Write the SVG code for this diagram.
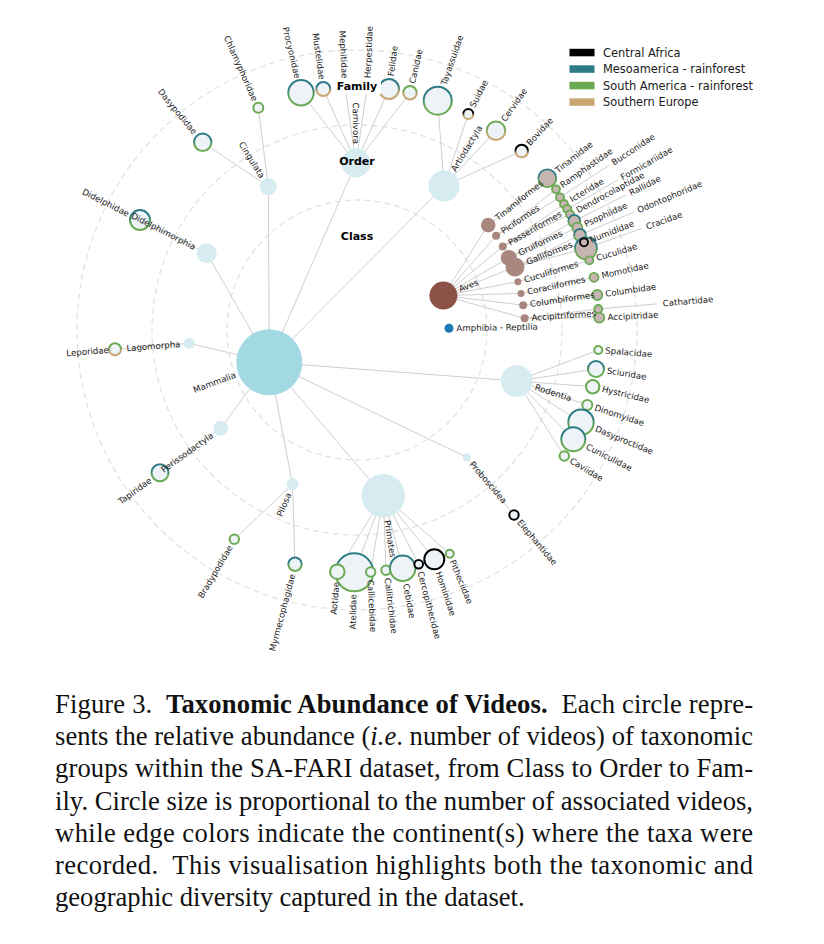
<svg xmlns="http://www.w3.org/2000/svg" width="824" height="944" viewBox="0 0 824 944">
<defs>
<style>
.ring{fill:none;stroke:#e2e2e2;stroke-width:1.3;stroke-dasharray:6 4}
.e{stroke:#cfcfcf;stroke-width:1;fill:none}
.lb{font-family:"DejaVu Sans",sans-serif;font-size:8.6px;fill:#1a1a1a;dominant-baseline:central}
.le{text-anchor:end}
.hd{font-family:"DejaVu Sans",sans-serif;font-size:11px;font-weight:bold;fill:#000;text-anchor:middle;dominant-baseline:central}
.mo{fill:#d7ecf1}
.mf{fill:#eef3f7;stroke-width:2}
.bo{fill:#a9877f}
.bf{fill:#c6b5b1;stroke-width:1.8}
.G{stroke:#6aaa52}.K{stroke:#000}
.tg{stroke:url(#tg)}.tt{stroke:url(#tt)}.gt{stroke:url(#gt)}.kt{stroke:url(#kt)}
.lg{font-family:"DejaVu Sans",sans-serif;font-size:11.4px;fill:#1a1a1a;dominant-baseline:central}
.cap{font-family:"Liberation Serif","Times New Roman",serif;font-size:26.6px;fill:#111}
</style>
<linearGradient id="tg" x1="0" y1="0" x2="0" y2="1"><stop offset="0.3" stop-color="#2d7b85"/><stop offset="0.7" stop-color="#6aaa52"/></linearGradient>
<linearGradient id="tt" x1="0" y1="0" x2="0" y2="1"><stop offset="0.3" stop-color="#2d7b85"/><stop offset="0.7" stop-color="#c8a772"/></linearGradient>
<linearGradient id="gt" x1="0" y1="0" x2="0" y2="1"><stop offset="0.3" stop-color="#6aaa52"/><stop offset="0.7" stop-color="#c8a772"/></linearGradient>
<linearGradient id="kt" x1="0" y1="0" x2="0" y2="1"><stop offset="0.35" stop-color="#000"/><stop offset="0.7" stop-color="#c8a772"/></linearGradient>
</defs>
<rect width="824" height="944" fill="#fff"/>

<g id="rings">
<circle class="ring" cx="357" cy="330" r="130"/>
<circle class="ring" cx="357" cy="330" r="205"/>
<circle class="ring" cx="357" cy="330" r="280"/>
</g>

<g id="connectors">
<line class="e" x1="269.3" y1="362.3" x2="356" y2="163"/>
<line class="e" x1="269.3" y1="362.3" x2="444" y2="186"/>
<line class="e" x1="269.3" y1="362.3" x2="268.3" y2="186.7"/>
<line class="e" x1="269.3" y1="362.3" x2="206.7" y2="253.3"/>
<line class="e" x1="269.3" y1="362.3" x2="189.3" y2="343.3"/>
<line class="e" x1="269.3" y1="362.3" x2="220.7" y2="428.3"/>
<line class="e" x1="269.3" y1="362.3" x2="292.5" y2="484.3"/>
<line class="e" x1="269.3" y1="362.3" x2="383.3" y2="495.7"/>
<line class="e" x1="269.3" y1="362.3" x2="466.7" y2="457.3"/>
<line class="e" x1="269.3" y1="362.3" x2="516.7" y2="381"/>
<line class="e" x1="443.4" y1="295.6" x2="488.2" y2="225.1"/>
<line class="e" x1="443.4" y1="295.6" x2="496.1" y2="235.8"/>
<line class="e" x1="443.4" y1="295.6" x2="502.8" y2="246.5"/>
<line class="e" x1="443.4" y1="295.6" x2="508.8" y2="257.9"/>
<line class="e" x1="443.4" y1="295.6" x2="515" y2="267"/>
<line class="e" x1="443.4" y1="295.6" x2="517.9" y2="281.7"/>
<line class="e" x1="443.4" y1="295.6" x2="521" y2="293.4"/>
<line class="e" x1="443.4" y1="295.6" x2="523.2" y2="305.2"/>
<line class="e" x1="443.4" y1="295.6" x2="524.6" y2="318.3"/>
<line class="e" x1="356" y1="163" x2="301" y2="92.7"/>
<line class="e" x1="356" y1="163" x2="323.3" y2="89"/>
<line class="e" x1="356" y1="163" x2="345.1" y2="87.3"/>
<line class="e" x1="356" y1="163" x2="367.2" y2="87.2"/>
<line class="e" x1="356" y1="163" x2="389" y2="89"/>
<line class="e" x1="356" y1="163" x2="410" y2="92.7"/>
<line class="e" x1="444" y1="186" x2="437.7" y2="100.7"/>
<line class="e" x1="444" y1="186" x2="468.3" y2="114"/>
<line class="e" x1="444" y1="186" x2="496" y2="130.7"/>
<line class="e" x1="444" y1="186" x2="521.7" y2="151"/>
<line class="e" x1="268.3" y1="186.7" x2="258.3" y2="107.7"/>
<line class="e" x1="268.3" y1="186.7" x2="202.7" y2="142.3"/>
<line class="e" x1="206.7" y1="253.3" x2="140" y2="220"/>
<line class="e" x1="189.3" y1="343.3" x2="115" y2="349.3"/>
<line class="e" x1="220.7" y1="428.3" x2="160" y2="472.7"/>
<line class="e" x1="292.5" y1="484.3" x2="234.3" y2="539.3"/>
<line class="e" x1="292.5" y1="484.3" x2="295" y2="564.3"/>
<line class="e" x1="383.3" y1="495.7" x2="337.3" y2="571.7"/>
<line class="e" x1="383.3" y1="495.7" x2="354.3" y2="572.3"/>
<line class="e" x1="383.3" y1="495.7" x2="370.7" y2="572"/>
<line class="e" x1="383.3" y1="495.7" x2="386" y2="570.3"/>
<line class="e" x1="383.3" y1="495.7" x2="402.7" y2="568.3"/>
<line class="e" x1="383.3" y1="495.7" x2="418.7" y2="564.3"/>
<line class="e" x1="383.3" y1="495.7" x2="434.3" y2="559.3"/>
<line class="e" x1="383.3" y1="495.7" x2="449.7" y2="553.7"/>
<line class="e" x1="466.7" y1="457.3" x2="514" y2="515"/>
<line class="e" x1="516.7" y1="381" x2="598.3" y2="350"/>
<line class="e" x1="516.7" y1="381" x2="596" y2="369"/>
<line class="e" x1="516.7" y1="381" x2="592.7" y2="386.7"/>
<line class="e" x1="516.7" y1="381" x2="587.3" y2="405"/>
<line class="e" x1="516.7" y1="381" x2="581" y2="422.3"/>
<line class="e" x1="516.7" y1="381" x2="573.3" y2="439.3"/>
<line class="e" x1="516.7" y1="381" x2="564.3" y2="456"/>
<line class="e" x1="488.2" y1="225.1" x2="547.3" y2="178.3"/>
<line class="e" x1="496.1" y1="235.8" x2="556" y2="189.3"/>
<line class="e" x1="496.1" y1="235.8" x2="560" y2="197.3"/>
<line class="e" x1="502.8" y1="246.5" x2="564" y2="204"/>
<line class="e" x1="502.8" y1="246.5" x2="567.3" y2="209"/>
<line class="e" x1="502.8" y1="246.5" x2="570" y2="214.3"/>
<line class="e" x1="508.8" y1="257.9" x2="574.3" y2="221"/>
<line class="e" x1="508.8" y1="257.9" x2="577.3" y2="227.7"/>
<line class="e" x1="515" y1="267" x2="580" y2="235"/>
<line class="e" x1="515" y1="267" x2="584" y2="242.3"/>
<line class="e" x1="515" y1="267" x2="586" y2="248.3"/>
<line class="e" x1="517.9" y1="281.7" x2="589.3" y2="260.3"/>
<line class="e" x1="521" y1="293.4" x2="594" y2="277.3"/>
<line class="e" x1="523.2" y1="305.2" x2="597.3" y2="295"/>
<line class="e" x1="524.6" y1="318.3" x2="598.3" y2="309"/>
<line class="e" x1="524.6" y1="318.3" x2="599.3" y2="317.7"/>
<line class="e" x1="560" y1="197.3" x2="608.9" y2="165.3"/>
<line class="e" x1="567.3" y1="209" x2="617.9" y2="179.9"/>
<line class="e" x1="574.3" y1="221" x2="626" y2="195"/>
<line class="e" x1="580" y1="235" x2="633.9" y2="212.1"/>
<line class="e" x1="586" y1="248.3" x2="642.4" y2="228.2"/>
<line class="e" x1="598.3" y1="309" x2="656.9" y2="303.9"/>
</g>

<g id="families">
<g id="procyonidae"><circle class="mf tg" cx="301" cy="92.7" r="12.7"/><text class="lb le" transform="rotate(76.72 357 330)" x="98.3" y="330">Procyonidae</text></g>
<g id="mustelidae"><circle class="mf tt" cx="323.3" cy="89" r="7"/><text class="lb le" transform="rotate(82.04 357 330)" x="104" y="330">Mustelidae</text></g>
<g id="mephitidae"><circle class="mf G" cx="345.1" cy="87.3" r="5"/><text class="lb le" transform="rotate(87.2 357 330)" x="105" y="330">Mephitidae</text></g>
<g id="herpestidae"><circle class="mf G" cx="367.2" cy="87.2" r="5"/><text class="lb" transform="rotate(-87.6 357 330)" x="609" y="330">Herpestidae</text></g>
<g id="felidae"><circle class="mf tt" cx="389" cy="89" r="10"/><text class="lb" transform="rotate(-82.44 357 330)" x="613" y="330">Felidae</text></g>
<g id="canidae"><circle class="mf gt" cx="410" cy="92.7" r="6.7"/><text class="lb" transform="rotate(-77.41 357 330)" x="609.7" y="330">Canidae</text></g>
<g id="tayassuidae"><circle class="mf tg" cx="437.7" cy="100.7" r="14"/><text class="lb" transform="rotate(-70.61 357 330)" x="617" y="330">Tayassuidae</text></g>
<g id="suidae"><circle class="mf kt" cx="468.3" cy="114" r="5"/><text class="lb" transform="rotate(-62.74 357 330)" x="608" y="330">Suidae</text></g>
<g id="cervidae"><circle class="mf gt" cx="496" cy="130.7" r="9.3"/><text class="lb" transform="rotate(-55.1 357 330)" x="612.3" y="330">Cervidae</text></g>
<g id="bovidae"><circle class="mf kt" cx="521.7" cy="151" r="6.3"/><text class="lb" transform="rotate(-47.38 357 330)" x="609.5" y="330">Bovidae</text></g>
<g id="chlamyphoridae"><circle class="mf G" cx="258.3" cy="107.7" r="5"/><text class="lb le" transform="rotate(66.06 357 330)" x="106" y="330">Chlamyphoridae</text></g>
<g id="dasypodidae"><circle class="mf tg" cx="202.7" cy="142.3" r="8.7"/><text class="lb le" transform="rotate(50.58 357 330)" x="102.3" y="330">Dasypodidae</text></g>
<g id="didelphidae"><circle class="mf tg" cx="140" cy="220" r="10"/><text class="lb le" transform="rotate(26.88 357 330)" x="101" y="330">Didelphidae</text></g>
<g id="leporidae"><circle class="mf gt" cx="115" cy="349.3" r="6"/><text class="lb le" transform="rotate(-4.56 357 330)" x="108" y="330">Leporidae</text></g>
<g id="tapiridae"><circle class="mf tg" cx="160" cy="472.7" r="8.5"/><text class="lb le" transform="rotate(-35.92 357 330)" x="102.2" y="330">Tapiridae</text></g>
<g id="bradypodidae"><circle class="mf G" cx="234.3" cy="539.3" r="4.7"/><text class="lb le" transform="rotate(-59.62 357 330)" x="106.7" y="330">Bradypodidae</text></g>
<g id="myrmecophagidae"><circle class="mf tg" cx="295" cy="564.3" r="6.7"/><text class="lb le" transform="rotate(-75.18 357 330)" x="104.6" y="330">Myrmecophagidae</text></g>
<g id="atelidae"><circle class="mf tg" cx="354.3" cy="572.3" r="19"/><text class="lb le" transform="rotate(-89.2 357 330)" x="92.7" y="330">Atelidae</text></g>
<g id="aotidae"><circle class="mf G" cx="337.3" cy="571.7" r="7.3"/><text class="lb le" transform="rotate(-85.3 357 330)" x="104.2" y="330">Aotidae</text></g>
<g id="callicebidae"><circle class="mf G" cx="370.7" cy="572" r="4.7"/><text class="lb" transform="rotate(86.9 357 330)" x="607.3" y="330">Callicebidae</text></g>
<g id="callitrichidae"><circle class="mf G" cx="386" cy="570.3" r="4.7"/><text class="lb" transform="rotate(83 357 330)" x="606.7" y="330">Callitrichidae</text></g>
<g id="cebidae"><circle class="mf tg" cx="402.7" cy="568.3" r="12.7"/><text class="lb" transform="rotate(79.1 357 330)" x="615.3" y="330">Cebidae</text></g>
<g id="cercopithecidae"><circle class="mf K" cx="418.7" cy="564.3" r="4.3"/><text class="lb" transform="rotate(75.3 357 330)" x="606.6" y="330">Cercopithecidae</text></g>
<g id="hominidae"><circle class="mf K" cx="434.3" cy="559.3" r="10"/><text class="lb" transform="rotate(71.4 357 330)" x="612" y="330">Hominidae</text></g>
<g id="pitheciidae"><circle class="mf G" cx="449.7" cy="553.7" r="4"/><text class="lb" transform="rotate(67.5 357 330)" x="606" y="330">Pitheciidae</text></g>
<g id="elephantidae"><circle class="mf K" cx="514" cy="515" r="4.7"/><text class="lb" transform="rotate(49.69 357 330)" x="607.3" y="330">Elephantidae</text></g>
<g id="spalacidae"><circle class="mf G" cx="598.3" cy="350" r="4"/><text class="lb" transform="rotate(4.7 357 330)" x="606.2" y="330">Spalacidae</text></g>
<g id="sciuridae"><circle class="mf tg" cx="596" cy="369" r="8"/><text class="lb" transform="rotate(9.2 357 330)" x="610.2" y="330">Sciuridae</text></g>
<g id="hystricidae"><circle class="mf G" cx="592.7" cy="386.7" r="6.7"/><text class="lb" transform="rotate(13.5 357 330)" x="609.1" y="330">Hystricidae</text></g>
<g id="dinomyidae"><circle class="mf G" cx="587.3" cy="405" r="5"/><text class="lb" transform="rotate(18 357 330)" x="607.2" y="330">Dinomyidae</text></g>
<g id="dasyproctidae"><circle class="mf tg" cx="581" cy="422.3" r="12.7"/><text class="lb" transform="rotate(22.4 357 330)" x="615" y="330">Dasyproctidae</text></g>
<g id="cuniculidae"><circle class="mf tg" cx="573.3" cy="439.3" r="12"/><text class="lb" transform="rotate(26.8 357 330)" x="614.3" y="330">Cuniculidae</text></g>
<g id="caviidae"><circle class="mf G" cx="564.3" cy="456" r="4.7"/><text class="lb" transform="rotate(31.3 357 330)" x="607" y="330">Caviidae</text></g>

<g id="tinamidae"><circle class="bf tg" cx="547.3" cy="178.3" r="9"/><text class="lb" transform="rotate(-38.56 357 330)" x="612" y="330">Tinamidae</text></g>
<g id="ramphastidae"><circle class="bf G" cx="556" cy="189.3" r="4"/><text class="lb" transform="rotate(-35.26 357 330)" x="607" y="330">Ramphastidae</text></g>
<g id="bucconidae"><circle class="bf G" cx="560" cy="197.3" r="4"/><text class="lb" transform="rotate(-33.17 357 330)" x="662" y="330">Bucconidae</text></g>
<g id="icteridae"><circle class="bf G" cx="564" cy="204" r="4"/><text class="lb" transform="rotate(-31.33 357 330)" x="607" y="330">Icteridae</text></g>
<g id="formicariidae"><circle class="bf G" cx="567.3" cy="209" r="4"/><text class="lb" transform="rotate(-29.91 357 330)" x="662" y="330">Formicariidae</text></g>
<g id="dendrocolaptidae"><circle class="bf G" cx="570" cy="214.3" r="4"/><text class="lb" transform="rotate(-28.5 357 330)" x="607" y="330">Dendrocolaptidae</text></g>
<g id="rallidae"><circle class="bf tg" cx="574.3" cy="221" r="6"/><text class="lb" transform="rotate(-26.64 357 330)" x="662" y="330">Rallidae</text></g>
<g id="psophiidae"><circle class="bf G" cx="577.3" cy="227.7" r="5"/><text class="lb" transform="rotate(-24.9 357 330)" x="608" y="330">Psophiidae</text></g>
<g id="odontophoridae"><circle class="bf tg" cx="580" cy="235" r="6"/><text class="lb" transform="rotate(-23.07 357 330)" x="662" y="330">Odontophoridae</text></g>
<g id="cracidae"><circle class="bf tg" cx="586" cy="248.3" r="11"/><text class="lb" transform="rotate(-19.64 357 330)" x="664" y="330">Cracidae</text></g>
<g id="numididae"><circle class="bf K" cx="584" cy="242.3" r="4"/><text class="lb" transform="rotate(-21.12 357 330)" x="607" y="330">Numididae</text></g>
<g id="cuculidae"><circle class="bf G" cx="589.3" cy="260.3" r="4"/><text class="lb" transform="rotate(-16.7 357 330)" x="607" y="330">Cuculidae</text></g>
<g id="momotidae"><circle class="bf G" cx="594" cy="277.3" r="4.5"/><text class="lb" transform="rotate(-12.54 357 330)" x="607.5" y="330">Momotidae</text></g>
<g id="columbidae"><circle class="bf G" cx="597.3" cy="295" r="5"/><text class="lb" transform="rotate(-8.29 357 330)" x="608" y="330">Columbidae</text></g>
<g id="cathartidae"><circle class="bf G" cx="598.3" cy="309" r="4"/><text class="lb" transform="rotate(-4.97 357 330)" x="664" y="330">Cathartidae</text></g>
<g id="accipitridae"><circle class="bf G" cx="599.3" cy="317.7" r="5"/><text class="lb" transform="rotate(-2.9 357 330)" x="608" y="330">Accipitridae</text></g>
</g>

<g id="orders">
<g id="carnivora"><circle class="mo" cx="356" cy="163" r="14.5"/><text class="lb le" transform="rotate(89.7 357 330)" x="171" y="330">Carnivora</text></g>
<g id="artiodactyla"><circle class="mo" cx="444" cy="186" r="15.5"/><text class="lb" transform="rotate(-58.86 357 330)" x="543" y="330">Artiodactyla</text></g>
<g id="cingulata"><circle class="mo" cx="268.3" cy="186.7" r="8.5"/><text class="lb le" transform="rotate(58.25 357 330)" x="177.5" y="330">Cingulata</text></g>
<g id="didelphimorphia"><circle class="mo" cx="206.7" cy="253.3" r="10"/><text class="lb le" transform="rotate(27.04 357 330)" x="175.3" y="330">Didelphimorphia</text></g>
<g id="lagomorpha"><circle class="mo" cx="189.3" cy="343.3" r="5.5"/><text class="lb le" transform="rotate(-4.53 357 330)" x="179.8" y="330">Lagomorpha</text></g>
<g id="perissodactyla"><circle class="mo" cx="220.7" cy="428.3" r="7.5"/><text class="lb le" transform="rotate(-35.8 357 330)" x="178.5" y="330">Perissodactyla</text></g>
<g id="pilosa"><circle class="mo" cx="292.5" cy="484.3" r="6"/><text class="lb le" transform="rotate(-67.3 357 330)" x="180" y="330">Pilosa</text></g>
<g id="primates"><circle class="mo" cx="383.3" cy="495.7" r="21.7"/><text class="lb" transform="rotate(81 357 330)" x="549.7" y="330">Primates</text></g>
<g id="proboscidea"><circle class="mo" cx="466.7" cy="457.3" r="4"/><text class="lb" transform="rotate(49.25 357 330)" x="532" y="330">Proboscidea</text></g>
<g id="rodentia"><circle class="mo" cx="516.7" cy="381" r="16"/><text class="lb" transform="rotate(17.7 357 330)" x="544" y="330">Rodentia</text></g>
<g id="tinamiformes"><circle class="bo" cx="488.2" cy="225.1" r="7.3"/><text class="lb" transform="rotate(-38.65 357 330)" x="535.3" y="330">Tinamiformes</text></g>
<g id="piciformes"><circle class="bo" cx="496.1" cy="235.8" r="4"/><text class="lb" transform="rotate(-34.1 357 330)" x="532" y="330">Piciformes</text></g>
<g id="passeriformes"><circle class="bo" cx="502.8" cy="246.5" r="4"/><text class="lb" transform="rotate(-29.8 357 330)" x="532" y="330">Passeriformes</text></g>
<g id="gruiformes"><circle class="bo" cx="508.8" cy="257.9" r="8"/><text class="lb" transform="rotate(-25.4 357 330)" x="536" y="330">Gruiformes</text></g>
<g id="galliformes"><circle class="bo" cx="515" cy="267" r="9.5"/><text class="lb" transform="rotate(-21.8 357 330)" x="539.7" y="330">Galliformes</text></g>
<g id="cuculiformes"><circle class="bo" cx="517.9" cy="281.7" r="3.5"/><text class="lb" transform="rotate(-16.7 357 330)" x="531.5" y="330">Cuculiformes</text></g>
<g id="coraciiformes"><circle class="bo" cx="521" cy="293.4" r="3.5"/><text class="lb" transform="rotate(-12.6 357 330)" x="531.5" y="330">Coraciiformes</text></g>
<g id="columbiformes"><circle class="bo" cx="523.2" cy="305.2" r="4"/><text class="lb" transform="rotate(-8.5 357 330)" x="532" y="330">Columbiformes</text></g>
<g id="accipitriformes"><circle class="bo" cx="524.6" cy="318.3" r="4"/><text class="lb" transform="rotate(-4 357 330)" x="532" y="330">Accipitriformes</text></g>
</g>

<g id="classes">
<g id="mammalia"><circle cx="269.3" cy="362.3" r="33" fill="#a2d9e3"/><text class="lb le" transform="rotate(-20.2 357 330)" x="227.5" y="330">Mammalia</text></g>
<g id="aves"><circle cx="443.4" cy="295.6" r="14" fill="#8c5247"/><text class="lb" transform="rotate(-21.7 357 330)" x="467" y="330">Aves</text></g>
<g id="amphibia-reptilia"><circle cx="449" cy="328.3" r="4.5" fill="#1f77b4"/><text class="lb" transform="rotate(-1.06 357 330)" x="456.5" y="330">Amphibia - Reptilia</text></g>
</g>

<g id="level-labels">
<text class="hd" x="357" y="236">Class</text>
<text class="hd" x="357" y="161">Order</text>
<rect x="333" y="78" width="48" height="16" fill="#fff"/>
<text class="hd" x="357" y="86">Family</text>
</g>

<g id="legend">
<rect x="569.5" y="48.8" width="25" height="7.5" fill="#000"/>
<text class="lg" x="603" y="52.5">Central Africa</text>
<rect x="569.5" y="65.3" width="25" height="7.5" fill="#2d7b85"/>
<text class="lg" x="603" y="69">Mesoamerica - rainforest</text>
<rect x="569.5" y="81.8" width="25" height="7.5" fill="#6aaa52"/>
<text class="lg" x="603" y="85.5">South America - rainforest</text>
<rect x="569.5" y="98.3" width="25" height="7.5" fill="#c8a772"/>
<text class="lg" x="603" y="102">Southern Europe</text>
</g>

<g id="caption">
<text class="cap" x="55" y="713" textLength="698" lengthAdjust="spacing">Figure 3.&#160; <tspan font-weight="bold">Taxonomic Abundance of Videos.</tspan>&#160; Each circle repre-</text>
<text class="cap" x="55" y="745.2" textLength="698" lengthAdjust="spacing">sents the relative abundance (<tspan font-style="italic">i.e</tspan>. number of videos) of taxonomic</text>
<text class="cap" x="55" y="777.4" textLength="698" lengthAdjust="spacing">groups within the SA-FARI dataset, from Class to Order to Fam-</text>
<text class="cap" x="55" y="809.6" textLength="698" lengthAdjust="spacing">ily. Circle size is proportional to the number of associated videos,</text>
<text class="cap" x="55" y="841.8" textLength="698" lengthAdjust="spacing">while edge colors indicate the continent(s) where the taxa were</text>
<text class="cap" x="55" y="874" textLength="698" lengthAdjust="spacing">recorded.&#160; This visualisation highlights both the taxonomic and</text>
<text class="cap" x="55" y="906.2">geographic diversity captured in the dataset.</text>
</g>
</svg>
